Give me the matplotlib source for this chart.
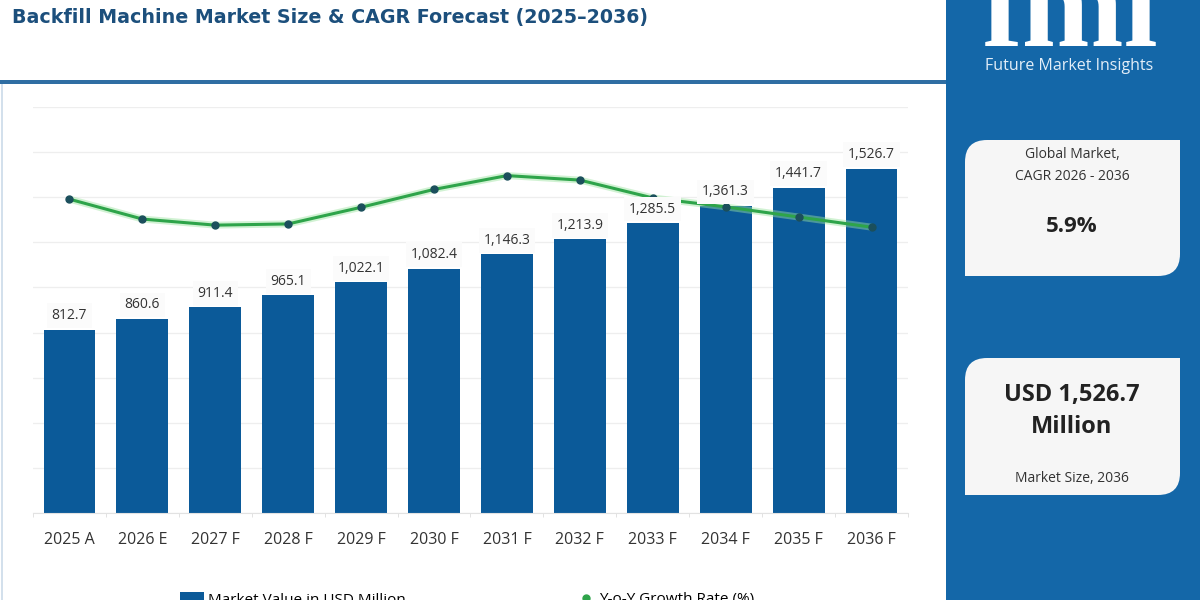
import matplotlib
matplotlib.use("Agg")
import matplotlib.pyplot as plt
from matplotlib.path import Path
from matplotlib.patches import PathPatch, Rectangle, Patch
from matplotlib.lines import Line2D
import numpy as np

# ---------------- data ----------------
categories = ["2025 A", "2026 E", "2027 F", "2028 F", "2029 F", "2030 F",
              "2031 F", "2032 F", "2033 F", "2034 F", "2035 F", "2036 F"]
market_value = [812.7, 860.6, 911.4, 965.1, 1022.1, 1082.4,
                1146.3, 1213.9, 1285.5, 1361.3, 1441.7, 1526.7]
yoy_growth = [7.73, 7.24, 7.09, 7.12, 7.53, 7.97,
              8.31, 8.20, 7.76, 7.54, 7.29, 7.04]
value_labels = ["812.7", "860.6", "911.4", "965.1", "1,022.1", "1,082.4",
                "1,146.3", "1,213.9", "1,285.5", "1,361.3", "1,441.7", "1,526.7"]

title = "Backfill Machine Market Size & CAGR Forecast (2025\u20132036)"
cagr_text = "5.9%"
size_text = "USD 1,526.7\nMillion"

FONT = ["Open Sans", "DejaVu Sans"]
plt.rcParams["font.family"] = FONT

BAR = "#0b5a99"
PANEL = "#1467a8"
TITLE_C = "#1c4f7c"
GREEN = "#2ea44a"
MARK = "#1b4f5c"
TXT = "#333333"

fig = plt.figure(figsize=(12, 6), dpi=100)

# background / layout overlay in pixel coordinates
bg = fig.add_axes([0, 0, 1, 1], zorder=0)
bg.set_xlim(0, 1200)
bg.set_ylim(600, 0)
bg.axis("off")

# header line and left border
bg.add_patch(Rectangle((0, 80), 948, 4, color="#2f6ea3", lw=0))
bg.add_patch(Rectangle((1, 84), 2, 516, color="#d3e0ec", lw=0))
# right panel
bg.add_patch(Rectangle((946, 0), 254, 600, color=PANEL, lw=0))

bg.text(12, 18, title, fontsize=13.7, fontweight="bold", color=TITLE_C,
        family=["DejaVu Sans"], ha="left", va="center")

# logo
bg.text(1069, 46, "fmi", fontsize=88, fontweight="bold", color="white",
        family=["Liberation Serif", "DejaVu Serif"], ha="center", va="baseline")
for yy in np.arange(2, 50, 5.2):
    bg.plot([975, 1165], [yy, yy], color=PANEL, lw=1.3, solid_capstyle="butt")
bg.text(1069, 66, "Future Market Insights", fontsize=11.5, color="#e3eef8",
        ha="center", va="center")


def card(x0, y0, x1, y1, r):
    verts = [(x0 + r, y0), (x1, y0), (x1, y1 - r), (x1, y1), (x1 - r, y1),
             (x0, y1), (x0, y0 + r), (x0, y0), (x0 + r, y0), (x0 + r, y0)]
    codes = [Path.MOVETO, Path.LINETO, Path.LINETO, Path.CURVE3, Path.CURVE3,
             Path.LINETO, Path.LINETO, Path.CURVE3, Path.CURVE3, Path.CLOSEPOLY]
    bg.add_patch(PathPatch(Path(verts, codes), facecolor="#f6f6f6",
                           edgecolor="none"))


card(965, 140, 1180, 276, 22)
card(965, 358, 1180, 495, 22)
cx = 1072
bg.text(cx, 155, "Global Market,", fontsize=10, color=TXT, ha="center", va="center")
bg.text(cx, 176, "CAGR 2026 - 2036", fontsize=10, color=TXT, ha="center", va="center")
bg.text(cx, 227, cagr_text, fontsize=16, fontweight="bold", color="#222222",
        ha="center", va="center")
bg.text(cx, 411, size_text, fontsize=17, fontweight="bold", color="#222222",
        ha="center", va="center", linespacing=1.45)
bg.text(cx, 479, "Market Size, 2036", fontsize=10, color=TXT, ha="center", va="center")

# ---------------- main chart ----------------
ax = fig.add_axes([33 / 1200, 87 / 600, 875 / 1200, 406 / 600], zorder=2)
ax.patch.set_alpha(0)
x = np.arange(len(categories))
ax.bar(x, market_value, width=0.71, color=BAR, zorder=2)
ax.set_xlim(-0.45, len(categories) - 0.56)
ax.set_ylim(0, 1800)
ax.set_yticks(np.arange(0, 1801, 200))
ax.yaxis.grid(True, color="#eeeeee", lw=0.9, zorder=0)
ax.set_axisbelow(True)
ax.tick_params(axis="y", length=0, labelleft=False)
ax.set_xticks(x)
ax.set_xticklabels(categories, fontsize=11.5, color=TXT)
ax.tick_params(axis="x", length=0, pad=14)
ax.set_xticks(np.arange(-0.5, len(categories), 1), minor=True)
ax.tick_params(axis="x", which="minor", length=3, color="#dddddd")
for s in ["top", "right", "left"]:
    ax.spines[s].set_visible(False)
ax.spines["bottom"].set_color("#e2e2e2")

ax2 = ax.twinx()
ax2.set_ylim(0, 10)
ax2.axis("off")
ax2.plot(x, yoy_growth, color="#9be39f", lw=5, alpha=0.45,
         solid_capstyle="round", zorder=2)
ax2.plot(x, yoy_growth, color=GREEN, lw=2.2, marker="o", markersize=5,
         markerfacecolor=MARK, markeredgecolor=MARK, zorder=3)

for xi, v, lab in zip(x, market_value, value_labels):
    ax2.annotate(lab, xy=(xi, v), xycoords=ax.transData,
                 xytext=(0, 14), textcoords="offset pixels",
                 ha="center", va="center", fontsize=10, color=TXT, zorder=6,
                 bbox=dict(boxstyle="square,pad=0.35", facecolor="#fbfbfb",
                           edgecolor="none"))

# legends at the bottom (partially cut off like the reference)
fig.legend(handles=[Patch(facecolor=BAR, edgecolor="none")],
           labels=["Market Value in USD Million"],
           loc="center left", bbox_to_anchor=(180 / 1200, 0.0),
           frameon=False, fontsize=11, handlelength=1.6, handleheight=0.9,
           handletextpad=0.2, borderpad=0, borderaxespad=0)
fig.legend(handles=[Line2D([], [], color=GREEN, marker="o", lw=0,
                           markersize=5)],
           labels=["Y-o-Y Growth Rate (%)"],
           loc="center left", bbox_to_anchor=(578 / 1200, 0.0),
           frameon=False, fontsize=11, handlelength=1.0,
           handletextpad=0.4, borderpad=0, borderaxespad=0)

fig.savefig("out.png", dpi=100)
